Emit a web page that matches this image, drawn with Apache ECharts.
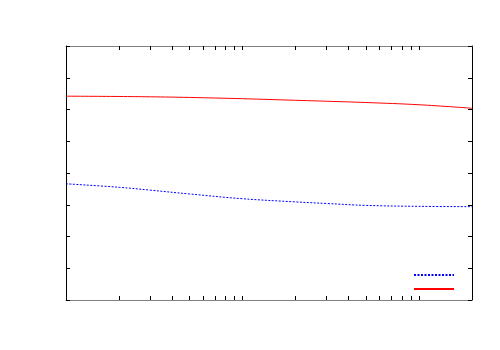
<!DOCTYPE html>
<html>
<head>
<meta charset="utf-8">
<script src="https://cdn.jsdelivr.net/npm/echarts@6/dist/echarts.min.js"></script>
<style>
  html, body { margin: 0; padding: 0; background: #fff; }
  #chart { width: 500px; height: 350px; }
</style>
</head>
<body>
<div id="chart"></div>
<script>
// x values (log scale)
const xValues = [1, 2, 3, 5, 10, 20, 30, 50, 100, 200];
const redValues = [6.42, 6.41, 6.40, 6.38, 6.34, 6.29, 6.26, 6.22, 6.15, 6.04];
const blueValues = [3.66, 3.55, 3.46, 3.34, 3.19, 3.09, 3.04, 2.98, 2.95, 2.94];
const xTickValues = [2, 3, 4, 5, 6, 7, 8, 9, 10, 20, 30, 40, 50, 60, 70, 80, 90, 100];

const xMin = 1;
const xMax = 200;

const lg = (v) => Math.log10(v);
const toPairs = (ys) => xValues.map((x, i) => [lg(x), ys[i]]);
const tickPos = xTickValues.map(lg);

const chart = echarts.init(document.getElementById('chart'));

function xAxisCfg(position, lineColor) {
  return {
    type: 'value',
    position: position,
    min: lg(xMin),
    max: lg(xMax),
    axisLine: { show: true, onZero: false, lineStyle: { color: lineColor, width: 1 } },
    axisTick: {
      show: true,
      inside: true,
      length: 4,
      customValues: tickPos,
      lineStyle: { color: '#000' },
    },
    axisLabel: { show: false },
    splitLine: { show: false },
  };
}

function yAxisCfg(position) {
  return {
    type: 'value',
    position: position,
    min: 0,
    max: 8,
    interval: 1,
    axisLine: { show: true, onZero: false, lineStyle: { color: '#000', width: 1 } },
    axisTick: { show: true, inside: true, length: 4, lineStyle: { color: '#000' } },
    axisLabel: { show: false },
    splitLine: { show: false },
  };
}

chart.setOption({
  animation: false,
  grid: { left: 66, right: 28, top: 46, bottom: 50 },
  xAxis: [xAxisCfg('bottom', '#808080'), xAxisCfg('top', '#808080')],
  yAxis: [yAxisCfg('left'), yAxisCfg('right')],
  legend: {
    right: 40,
    bottom: 52,
    orient: 'vertical',
    itemWidth: 40,
    itemHeight: 10,
    itemGap: 5,
    itemStyle: { opacity: 0 },
    formatter: () => '',
    data: ['blue', 'red'],
  },
  series: [
    {
      name: 'blue',
      type: 'line',
      smooth: 0.4,
      symbol: 'none',
      data: toPairs(blueValues),
      lineStyle: { color: '#0000ff', width: 1, type: [2, 1.5] },
      itemStyle: { color: '#0000ff' },
    },
    {
      name: 'red',
      type: 'line',
      smooth: 0.4,
      symbol: 'none',
      data: toPairs(redValues),
      lineStyle: { color: '#ff0000', width: 1 },
      itemStyle: { color: '#ff0000' },
    },
  ],
});
</script>
</body>
</html>
